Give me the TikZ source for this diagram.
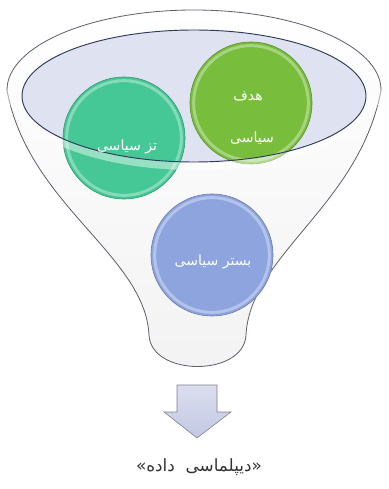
\documentclass[tikz,border=0pt]{standalone}
\usepackage{fontspec}
\newfontfamily\farsifont[Script=Arabic]{DejaVu Sans}
\TeXXeTstate=1
\usetikzlibrary{positioning, shadings}

\definecolor{goalgreen}{HTML}{78BE3C}
\definecolor{thesisgreen}{HTML}{45C895}
\definecolor{bedblue}{HTML}{8DA4DE}
\definecolor{rimfill}{HTML}{DFE2F0}
\definecolor{rimline}{HTML}{2E3A5A}
\definecolor{funnelline}{HTML}{60606E}
\definecolor{arrowfill}{HTML}{C3C8E4}

\tikzset{
  ball/.style={circle, minimum size=3.66cm, inner sep=0pt, fill=#1, draw=#1!75!black, line width=0.5pt,
    path picture={\draw[white, opacity=0.35, line width=2.5pt] (path picture bounding box.center) circle (1.72cm);}},
  balltext/.style={text=white, font=\farsifont\large, align=center},
}

\begin{document}
\begin{tikzpicture}[x=0.03cm, y=-0.03cm]
\useasboundingbox (0,0) rectangle (388,489);

% funnel body
\draw[funnelline, line width=0.7pt, top color=white, bottom color=gray!10]
  (7,90) arc[start angle=180, end angle=360, x radius=187, y radius=80]
  .. controls (360,205) and (250,255) .. (246,335)
  .. controls (244,377) and (151,377) .. (149,335)
  .. controls (145,255) and (28,205) .. (7,90) -- cycle;

% rim
\fill[rimfill] (194,96) ellipse[x radius=172, y radius=66];

% circles
\node[ball=thesisgreen] (thesis) at (124,138) {};
\node[ball=goalgreen] (goal) at (251,103) {};
\node[ball=bedblue] (bed) at (212,255) {};

% front of the rim
\fill[white, opacity=0.45]
  (7,90) arc[start angle=180, end angle=0, x radius=187, y radius=80]
  -- (366,96) arc[start angle=0, end angle=180, x radius=172, y radius=66] -- cycle;
\draw[rimline, line width=0.8pt] (194,96) ellipse[x radius=172, y radius=66];

% texts
\node[balltext] (thesislbl) at (127,147) {\beginR تز سیاسی\endR};
\node[balltext] (goallbl) at (248,96) {\beginR هدف\endR};
\node[balltext] (goallbl2) at (252,138) {\beginR سیاسی\endR};
\node[balltext] (bedlbl) at (213,262) {\beginR بستر سیاسی\endR};

% arrow
\draw[funnelline!80, line width=0.5pt, top color=arrowfill!60, bottom color=arrowfill]
  (177,385) -- (217,385) -- (217,412) -- (231,412) -- (197,438)
  -- (164,412) -- (177,412) -- cycle;

\node[font=\farsifont\Large, text=black!80] (result) at (199,467) {\beginR «دیپلماسی\ \ داده»\endR};
\end{tikzpicture}
\end{document}
